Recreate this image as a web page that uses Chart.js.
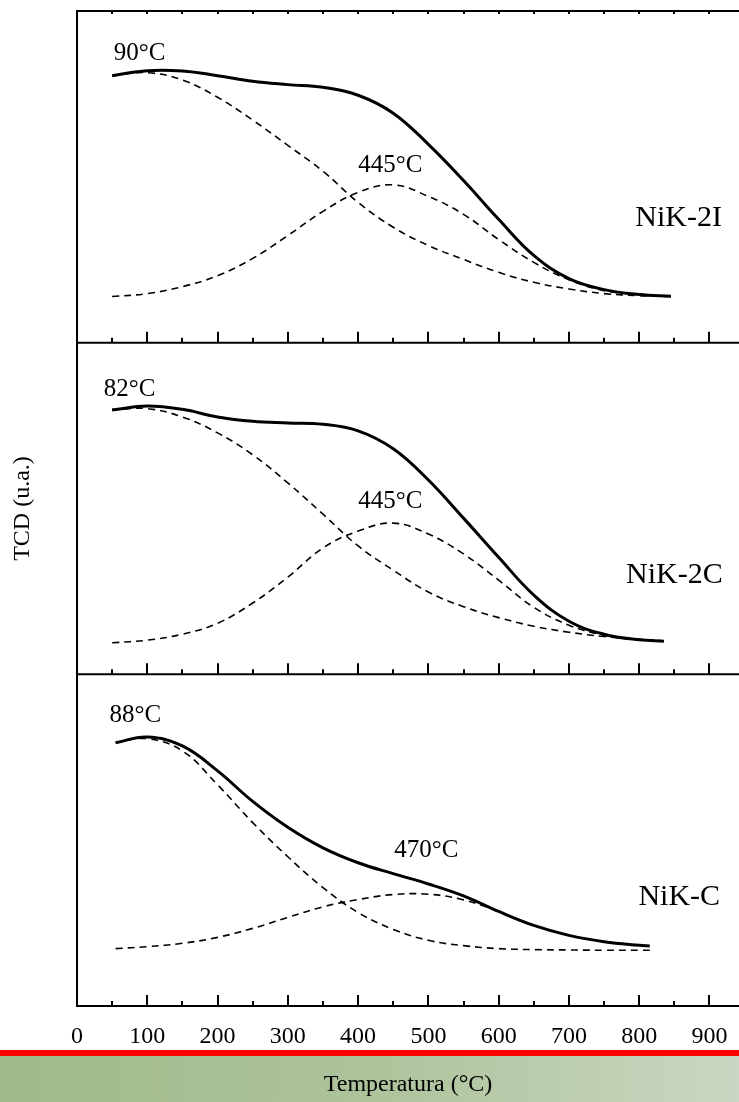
<!DOCTYPE html>
<html>
<head>
<meta charset="utf-8">
<script src="https://cdn.jsdelivr.net/npm/chart.js@4"></script>
<style>
  html, body { margin: 0; padding: 0; background: #fff; overflow: hidden; }
  #wrap { position: relative; width: 739px; height: 1102px; }
</style>
</head>
<body>
<div id="wrap"><canvas id="tpr"></canvas></div>
<script>
// === Data (TCD signal, a.u.) ===
const temps2I = [50, 100, 150, 200, 250, 300, 350, 400, 450, 500, 550, 600, 650, 700, 750, 800, 845];
const nik2iTotal = [80.5, 82.0, 81.9, 80.5, 78.8, 77.8, 77.0, 74.6, 69.2, 59.8, 48.9, 37.2, 26.3, 19.3, 16.0, 14.5, 14.0];
const nik2iLow = [80.5, 81.4, 79.2, 74.0, 67.1, 59.5, 51.7, 42.3, 34.8, 29.3, 25.1, 21.2, 18.2, 16.2, 14.8, 14.2, 13.9];
const nik2iHigh = [13.9, 14.8, 16.9, 20.2, 25.4, 32.3, 39.6, 45.3, 47.6, 44.1, 38.7, 31.1, 24.2, 19.0, 15.7, 14.5, 13.9];

const temps2C = [50, 100, 150, 200, 250, 300, 350, 400, 450, 500, 550, 600, 650, 700, 750, 800, 835];
const nik2cTotal = [79.7, 80.9, 79.9, 77.6, 76.3, 75.8, 75.4, 73.4, 68.0, 58.6, 47.1, 35.3, 23.9, 16.0, 12.1, 10.4, 10.0];
const nik2cLow = [79.8, 80.1, 77.6, 72.8, 66.2, 57.7, 48.3, 38.7, 31.4, 24.8, 20.4, 17.1, 14.5, 12.7, 11.4, 10.6, 10.1];
const nik2cHigh = [9.5, 10.3, 12.1, 15.4, 21.5, 29.3, 38.1, 43.2, 45.6, 42.3, 36.3, 28.4, 20.2, 14.8, 11.8, 10.4, 10.0];

const tempsC = [55, 100, 150, 200, 250, 300, 350, 400, 450, 500, 550, 600, 650, 700, 750, 800, 815];
const nikcTotal = [79.4, 81.1, 78.4, 70.9, 61.7, 53.9, 47.7, 43.2, 39.9, 36.8, 33.2, 28.5, 24.3, 21.3, 19.4, 18.3, 18.1];
const nikcLow = [79.4, 80.6, 76.9, 66.7, 55.3, 45.0, 35.7, 28.2, 23.1, 19.8, 18.2, 17.3, 17.0, 16.9, 16.8, 16.8, 16.8];
const nikcHigh = [17.3, 17.9, 18.9, 20.7, 23.4, 26.7, 29.9, 32.1, 33.6, 33.7, 32.0, 28.5, 24.3, 21.3, 19.4, 18.3, 18.1];

const sampleNames = ["NiK-2I", "NiK-2C", "NiK-C"];
const peakLabels = ["90°C", "445°C", "82°C", "445°C", "88°C", "470°C"];
const xTicks = [0, 50, 100, 150, 200, 250, 300, 350, 400, 450, 500, 550, 600, 650, 700, 750, 800, 850, 900];

const FONT = "'Liberation Serif', 'Times New Roman', serif";

// label placement (data units of each panel)
const annotations = [
  { text: peakLabels[0], axis: "p2I", x: 89, y: 87.3, size: 25 },
  { text: peakLabels[1], axis: "p2I", x: 446, y: 53.5, size: 25 },
  { text: sampleNames[0], axis: "p2I", x: 856, y: 37.6, size: 30 },
  { text: peakLabels[2], axis: "p2C", x: 75, y: 85.8, size: 25 },
  { text: peakLabels[3], axis: "p2C", x: 446, y: 52, size: 25 },
  { text: sampleNames[1], axis: "p2C", x: 850, y: 29.9, size: 30 },
  { text: peakLabels[4], axis: "pC", x: 83, y: 87.7, size: 25 },
  { text: peakLabels[5], axis: "pC", x: 497, y: 46.8, size: 25 },
  { text: sampleNames[2], axis: "pC", x: 857, y: 32.7, size: 30 },
];

function pts(xs, ys) {
  return xs.map((x, i) => ({ x: x, y: ys[i] }));
}

function solid(label, xs, ys, axis) {
  return {
    label: label,
    data: pts(xs, ys),
    yAxisID: axis,
    borderColor: "#000",
    borderWidth: 3,
    pointRadius: 0,
    tension: 0.4,
  };
}

function dashed(label, xs, ys, axis) {
  return {
    label: label,
    data: pts(xs, ys),
    yAxisID: axis,
    borderColor: "#000",
    borderWidth: 1.6,
    borderDash: [7, 5],
    pointRadius: 0,
    tension: 0.4,
  };
}

function panelAxis(withTitle) {
  return {
    type: "linear",
    axis: "y",
    position: "left",
    stack: "panels",
    stackWeight: 1,
    min: 0,
    max: 100,
    ticks: { display: false },
    grid: { display: false },
    border: { display: true, color: "#000", width: 2 },
    title: {
      display: withTitle,
      text: "TCD (u.a.)",
      color: "#000",
      font: { family: FONT, size: 24 },
      padding: { top: 8, bottom: 0 },
    },
    afterFit: (scale) => {
      scale.width = 77;
    },
  };
}

// === Plugins: background band, panel frames/ticks, labels ===
const bottomBand = {
  id: "bottomBand",
  beforeDraw(chart) {
    const { ctx, width, height } = chart;
    ctx.save();
    ctx.fillStyle = "#fff";
    ctx.fillRect(0, 0, width, height);
    const g = ctx.createLinearGradient(0, 0, width, 0);
    g.addColorStop(0, "#a0ba8b");
    g.addColorStop(0.5, "#adc39b");
    g.addColorStop(1, "#cbd6c2");
    ctx.fillStyle = g;
    ctx.fillRect(0, height - 46, width, 46);
    ctx.fillStyle = "#ff0000";
    ctx.fillRect(0, height - 52, width, 6);
    ctx.restore();
  },
};

const panelFrame = {
  id: "panelFrame",
  afterDraw(chart) {
    const { ctx, chartArea, scales } = chart;
    const xs = scales.x;
    ctx.save();
    ctx.strokeStyle = "#000";
    ctx.lineWidth = 2;
    ctx.beginPath();
    ctx.moveTo(chartArea.left - 1, chartArea.top);
    ctx.lineTo(chartArea.right, chartArea.top);
    ["p2I", "p2C"].forEach((id) => {
      const b = scales[id].bottom;
      ctx.moveTo(chartArea.left - 1, b);
      ctx.lineTo(chartArea.right, b);
    });
    ["p2I", "p2C", "pC"].forEach((id) => {
      const b = scales[id].bottom;
      xs.ticks.forEach((t) => {
        if (t.value <= 0) return;
        const px = Math.round(xs.getPixelForValue(t.value));
        const len = t.value % 100 === 0 ? 11 : 5;
        ctx.moveTo(px, b);
        ctx.lineTo(px, b - len);
      });
    });
    // short marks under the top border
    xs.ticks.forEach((t) => {
      if (t.value <= 0) return;
      const px = Math.round(xs.getPixelForValue(t.value));
      ctx.moveTo(px, chartArea.top);
      ctx.lineTo(px, chartArea.top + 3);
    });
    ctx.stroke();

    ctx.fillStyle = "#000";
    ctx.textAlign = "center";
    ctx.textBaseline = "middle";
    annotations.forEach((a) => {
      ctx.font = a.size + "px " + FONT;
      ctx.fillText(a.text, xs.getPixelForValue(a.x), scales[a.axis].getPixelForValue(a.y));
    });
    ctx.restore();
  },
};

new Chart(document.getElementById("tpr"), {
  type: "line",
  data: {
    datasets: [
      solid("NiK-2I", temps2I, nik2iTotal, "p2I"),
      dashed("NiK-2I low", temps2I, nik2iLow, "p2I"),
      dashed("NiK-2I high", temps2I, nik2iHigh, "p2I"),
      solid("NiK-2C", temps2C, nik2cTotal, "p2C"),
      dashed("NiK-2C low", temps2C, nik2cLow, "p2C"),
      dashed("NiK-2C high", temps2C, nik2cHigh, "p2C"),
      solid("NiK-C", tempsC, nikcTotal, "pC"),
      dashed("NiK-C low", tempsC, nikcLow, "pC"),
      dashed("NiK-C high", tempsC, nikcHigh, "pC"),
    ],
  },
  options: {
    responsive: true,
    maintainAspectRatio: false,
    animation: false,
    layout: { padding: { top: 11, right: 0, bottom: 0, left: 0 } },
    plugins: { legend: { display: false }, tooltip: { enabled: false } },
    scales: {
      x: {
        type: "linear",
        min: 0,
        max: 942,
        grid: { display: false },
        border: { display: true, color: "#000", width: 2 },
        afterBuildTicks: (scale) => {
          scale.ticks = xTicks.map((v) => ({ value: v }));
        },
        afterFit: (scale) => {
          scale.height = 96;
        },
        ticks: {
          autoSkip: false,
          maxRotation: 0,
          padding: 8,
          color: "#000",
          font: { family: FONT, size: 24 },
          callback: (v) => (v % 100 === 0 ? v : ""),
        },
        title: {
          display: true,
          text: "Temperatura (°C)",
          color: "#000",
          font: { family: FONT, size: 24 },
          padding: { top: 10, bottom: 3 },
        },
      },
      pC: panelAxis(false),
      p2C: panelAxis(true),
      p2I: panelAxis(false),
    },
  },
  plugins: [bottomBand, panelFrame],
});
</script>
</body>
</html>
